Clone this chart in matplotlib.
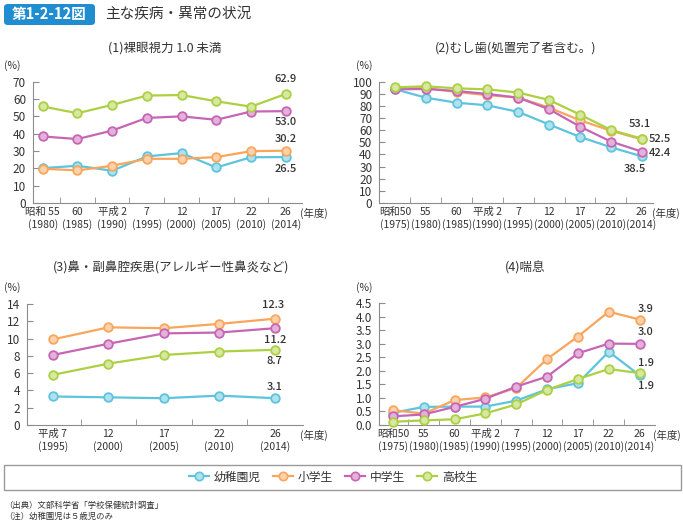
import numpy as np
import matplotlib.pyplot as plt
from matplotlib.lines import Line2D
from matplotlib.patches import Rectangle, FancyBboxPatch
import matplotlib.colors as mcolors

plt.rcParams['font.family'] = ['Noto Sans CJK JP', 'DejaVu Sans']

W, H = 683, 522

# series names and colours
groups = ['幼稚園児', '小学生', '中学生', '高校生']
colors = ['#5ec4dd', '#f9a55b', '#c765b5', '#acd043']

# (1) 裸眼視力 1.0 未満
x1_era = ['昭和 55', '60', '平成 2', '7', '12', '17', '22', '26']
x1_year = ['(1980)', '(1985)', '(1990)', '(1995)', '(2000)', '(2005)', '(2010)', '(2014)']
vision_kinder = [20.1, 21.5, 18.6, 26.9, 28.8, 20.5, 26.4, 26.5]
vision_elem = [19.8, 18.8, 21.5, 25.5, 25.5, 26.5, 29.9, 30.2]
vision_junior = [38.4, 36.9, 41.8, 49.1, 50.0, 48.0, 52.8, 53.0]
vision_high = [55.7, 51.8, 56.6, 62.0, 62.3, 58.7, 55.6, 62.9]

# (2) むし歯 / (4) 喘息 の年度
x2_era = ['昭和50', '55', '60', '平成 2', '7', '12', '17', '22', '26']
x2_year = ['(1975)', '(1980)', '(1985)', '(1990)', '(1995)', '(2000)', '(2005)',
           '(2010)', '(2014)']
caries_kinder = [93.8, 86.8, 82.7, 80.5, 75.1, 64.7, 54.5, 46.0, 38.5]
caries_elem = [94.5, 94.8, 91.5, 88.9, 86.9, 78.6, 68.2, 59.6, 52.5]
caries_junior = [93.7, 94.0, 92.3, 89.9, 86.8, 77.3, 63.0, 50.7, 42.4]
caries_high = [95.3, 96.2, 94.5, 93.7, 91.0, 84.9, 72.9, 60.3, 53.1]

# (3) 鼻・副鼻腔疾患
x3_era = ['平成 7', '12', '17', '22', '26']
x3_year = ['(1995)', '(2000)', '(2005)', '(2010)', '(2014)']
nose_kinder = [3.3, 3.2, 3.1, 3.4, 3.1]
nose_elem = [9.9, 11.3, 11.2, 11.7, 12.3]
nose_junior = [8.1, 9.4, 10.6, 10.7, 11.2]
nose_high = [5.8, 7.1, 8.1, 8.5, 8.7]

# (4) 喘息
asthma_kinder = [0.45, 0.67, 0.68, 0.68, 0.90, 1.32, 1.55, 2.71, 1.84]
asthma_elem = [0.55, 0.42, 0.92, 1.02, 1.37, 2.44, 3.27, 4.19, 3.9]
asthma_junior = [0.32, 0.39, 0.67, 0.97, 1.42, 1.79, 2.65, 3.01, 3.0]
asthma_high = [0.12, 0.17, 0.21, 0.43, 0.76, 1.30, 1.70, 2.07, 1.92]

fig = plt.figure(figsize=(W / 100, H / 100), dpi=100)
TXT = '#333333'
AX = '#8c8c8c'


def light(c, f=0.5):
    r, g, b = mcolors.to_rgb(c)
    return (r + (1 - r) * f, g + (1 - g) * f, b + (1 - b) * f)


def px_axes(l, t, r, b):
    return fig.add_axes([l / W, 1 - b / H, (r - l) / W, (b - t) / H])


def panel(rect, xlim, era, years, series, ymax, ystep, fmt, title, tx, ty, pct_x, year_x, notes):
    ax = px_axes(*rect)
    n = len(era)
    xs = np.arange(n)
    for vals, c in zip(series, colors):
        ax.plot(xs, vals, color=c, lw=1.6, marker='o', ms=6.2, mfc=light(c),
                mec=c, mew=1.3, zorder=3, clip_on=False)
    ax.set_xlim(*xlim)
    ax.set_ylim(0, ymax)
    yt = np.arange(0, ymax + ystep / 2, ystep)
    ax.set_yticks(yt)
    ax.set_yticklabels([fmt % v for v in yt])
    ax.set_xticks(xs)
    ax.set_xticklabels(era)
    ax.set_xticks(xs[:-1] + 0.5, minor=True)
    ax.tick_params(axis='x', which='major', length=0, pad=3, labelsize=7.5, colors=TXT)
    ax.tick_params(axis='x', which='minor', length=4, direction='in', color=AX)
    ax.tick_params(axis='y', length=4, direction='in', color=AX, labelsize=8.5,
                   colors=TXT, pad=5)
    for i, y in enumerate(years):
        ax.annotate(y, (i, 0), xycoords=ax.get_xaxis_transform(), xytext=(0, -22),
                    textcoords='offset pixels', ha='center', va='center',
                    fontsize=7.5, color=TXT)
    for s in ['top', 'right']:
        ax.spines[s].set_visible(False)
    for s in ['left', 'bottom']:
        ax.spines[s].set_color(AX)
        ax.spines[s].set_linewidth(0.8)
    fig.text(tx / W, 1 - ty / H, title, ha='center', va='center', fontsize=9, color=TXT)
    fig.text(pct_x / W, 1 - (rect[1] - 16) / H, '(%)', ha='left', va='center',
             fontsize=7.5, color=TXT)
    fig.text(year_x / W, 1 - (rect[3] + 10) / H, '(年度)', ha='left', va='center',
             fontsize=7.5, color=TXT)
    for text, val, dx, dy, ha in notes:
        ax.annotate(text, (n - 1, val), xytext=(dx, dy), textcoords='offset pixels',
                    ha=ha, va='center', fontsize=8, color=TXT, fontweight='medium')
    return ax


panel((33, 81.7, 302, 203), (-0.28, 7.47), x1_era, x1_year,
      [vision_kinder, vision_elem, vision_junior, vision_high], 70, 10, '%d',
      '(1)裸眼視力 1.0 未満', 165, 48, 4, 300,
      [('62.9', 62.9, 0, 15, 'center'), ('53.0', 53.0, 0, -11, 'center'),
       ('30.2', 30.2, 0, 12, 'center'), ('26.5', 26.5, 0, -12, 'center')])

panel((379.3, 81.7, 653, 203), (-0.51, 8.37), x2_era, x2_year,
      [caries_kinder, caries_elem, caries_junior, caries_high], 100, 10, '%d',
      '(2)むし歯(処置完了者含む。)', 516, 48, 356, 652,
      [('53.1', 53.1, -2, 15, 'center'), ('52.5', 52.5, 7, 0, 'left'),
       ('42.4', 42.4, 7, -1, 'left'), ('38.5', 38.5, -7, -13, 'center')])

panel((26.7, 304, 302.7, 425), (-0.47, 4.5), x3_era, x3_year,
      [nose_kinder, nose_elem, nose_junior, nose_high], 14, 2, '%d',
      '(3)鼻・副鼻腔疾患(アレルギー性鼻炎など)', 171, 268, 4, 300,
      [('12.3', 12.3, -2, 14, 'center'), ('11.2', 11.2, 0, -12, 'center'),
       ('8.7', 8.7, 0, -11, 'center'), ('3.1', 3.1, 0, 11, 'center')])

panel((379, 303.3, 655, 425), (-0.45, 8.5), x2_era, x2_year,
      [asthma_kinder, asthma_elem, asthma_junior, asthma_high], 4.5, 0.5, '%.1f',
      '(4)喘息', 525, 268, 356, 653,
      [('3.9', 3.9, 6, 11, 'center'), ('3.0', 3.0, 6, 12, 'center'),
       ('1.9', 1.92, 6, 10, 'center'), ('1.9', 1.84, 6, -11, 'center')])

# header
fig.patches.append(FancyBboxPatch((4 / W, 1 - 25 / H), 91 / W, 21 / H,
                                  boxstyle='round,pad=0,rounding_size=0.006',
                                  transform=fig.transFigure, fc='#1f8dd0', ec='none'))
fig.text(49.5 / W, 1 - 14.5 / H, '第1-2-12図', ha='center', va='center',
         fontsize=10.5, color='white', fontweight='bold')
fig.text(105 / W, 1 - 14.5 / H, '主な疾病・異常の状況', ha='left', va='center',
         fontsize=10.5, color=TXT)

# legend
fig.patches.append(Rectangle((3.5 / W, 1 - 489.5 / H), 677 / W, 25 / H,
                             transform=fig.transFigure, fc='none', ec='#999999', lw=1))
handles = [Line2D([], [], color=c, lw=1.6, marker='o', ms=6, mfc=light(c), mec=c, mew=1.2)
           for c in colors]
fig.legend(handles, groups, loc='center', bbox_to_anchor=(333 / W, 1 - 477 / H),
           ncol=4, frameon=False, fontsize=8.5, handlelength=1.7, handletextpad=0.42,
           columnspacing=1.0, labelcolor=TXT)

fig.text(4 / W, 1 - 505 / H, '（出典）文部科学省「学校保健統計調査」', ha='left', va='center',
         fontsize=6, color=TXT)
fig.text(4 / W, 1 - 516 / H, '（注）幼稚園児は５歳児のみ', ha='left', va='center',
         fontsize=6, color=TXT)

fig.savefig('out.png', dpi=100)
